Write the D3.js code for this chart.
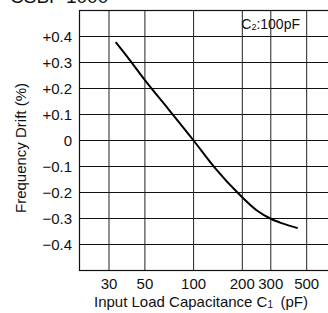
<!DOCTYPE html>
<html>
<head>
<meta charset="utf-8">
<script src="https://cdn.jsdelivr.net/npm/d3@7"></script>
<style>
  body { margin: 0; background: #fff; }
  svg { display: block; font-family: 'Liberation Sans', Arial, sans-serif; }
</style>
</head>
<body>
<svg id="chart" width="328" height="313"></svg>
<script>
// values
const capacitance = [33, 40, 50, 70, 100, 135, 190, 245, 300, 350, 440]
const drift = [0.378, 0.312, 0.232, 0.12, 0.0, -0.104, -0.205, -0.268, -0.301, -0.318, -0.337]
const xTicks = [30, 50, 100, 200, 300, 500]
const yTicks = [0.4, 0.3, 0.2, 0.1, 0, -0.1, -0.2, -0.3, -0.4]

const svg = d3.select('#chart')
const frame = { left: 79.5, right: 331, top: 10.5, bottom: 270.5 }

const x = d3.scaleLog().domain([30, 500]).range([109, 306.7])
const y = d3.scaleLinear().domain([-0.5, 0.5]).range([frame.bottom, frame.top])

const fmtY = d => (d > 0 ? '+' : d < 0 ? '\u2212' : '') + (d === 0 ? '0' : Math.abs(d).toFixed(1))

// title, cut off at top of the picture like the reference
svg.append('text')
	.attr('x', 10)
	.attr('y', 3)
	.style('font-size', '19px')
	.attr('fill', '#111')
	.text('CSBF 1000')

// grid
svg.append('g')
	.selectAll('line')
	.data(yTicks)
	.join('line')
	.attr('x1', frame.left)
	.attr('x2', frame.right)
	.attr('y1', d => y(d))
	.attr('y2', d => y(d))
	.attr('stroke', '#111')
	.attr('stroke-width', 1)

svg.append('g')
	.selectAll('line')
	.data(xTicks)
	.join('line')
	.attr('x1', d => x(d))
	.attr('x2', d => x(d))
	.attr('y1', frame.top)
	.attr('y2', frame.bottom)
	.attr('stroke', '#222')
	.attr('stroke-width', 1)

svg.append('rect')
	.attr('x', frame.left)
	.attr('y', frame.top)
	.attr('width', frame.right - frame.left)
	.attr('height', frame.bottom - frame.top)
	.attr('fill', 'none')
	.attr('stroke', '#111')
	.attr('stroke-width', 1.2)

// y tick labels
svg.append('g')
	.selectAll('text')
	.data(yTicks)
	.join('text')
	.attr('x', 72)
	.attr('y', d => y(d))
	.attr('dy', '0.36em')
	.attr('text-anchor', 'end')
	.style('font-size', '15px')
	.attr('fill', '#111')
	.text(fmtY)

// x tick labels
svg.append('g')
	.selectAll('text')
	.data(xTicks)
	.join('text')
	.attr('x', d => x(d))
	.attr('y', 289)
	.attr('text-anchor', 'middle')
	.style('font-size', '15px')
	.attr('fill', '#111')
	.text(d => d)

// axis titles
svg.append('text')
	.attr('transform', 'translate(26, 148) rotate(-90)')
	.attr('text-anchor', 'middle')
	.style('font-size', '15px')
	.attr('fill', '#111')
	.text('Frequency Drift (%)')

const xt = svg.append('text')
	.attr('x', 201)
	.attr('y', 307)
	.attr('text-anchor', 'middle')
	.style('font-size', '15px')
	.attr('fill', '#111')
xt.append('tspan').text('Input Load Capacitance C')
xt.append('tspan').style('font-size', '10px').attr('dy', 1).text('1')
xt.append('tspan').attr('dy', -1).text('\u2002(pF)')

const note = svg.append('text')
	.attr('x', 300)
	.attr('y', 29)
	.attr('text-anchor', 'end')
	.style('font-size', '14px')
	.attr('fill', '#111')
note.append('tspan').text('C')
note.append('tspan').style('font-size', '9px').attr('dy', 1).text('2')
note.append('tspan').attr('dy', -1).text(':100pF')

// curve
const pts = capacitance.map((c, i) => [c, drift[i]])
const line = d3.line()
	.x(d => x(d[0]))
	.y(d => y(d[1]))
	.curve(d3.curveMonotoneX)

svg.append('path')
	.datum(pts)
	.attr('d', line)
	.attr('fill', 'none')
	.attr('stroke', '#000')
	.attr('stroke-width', 2)
</script>
</body>
</html>
